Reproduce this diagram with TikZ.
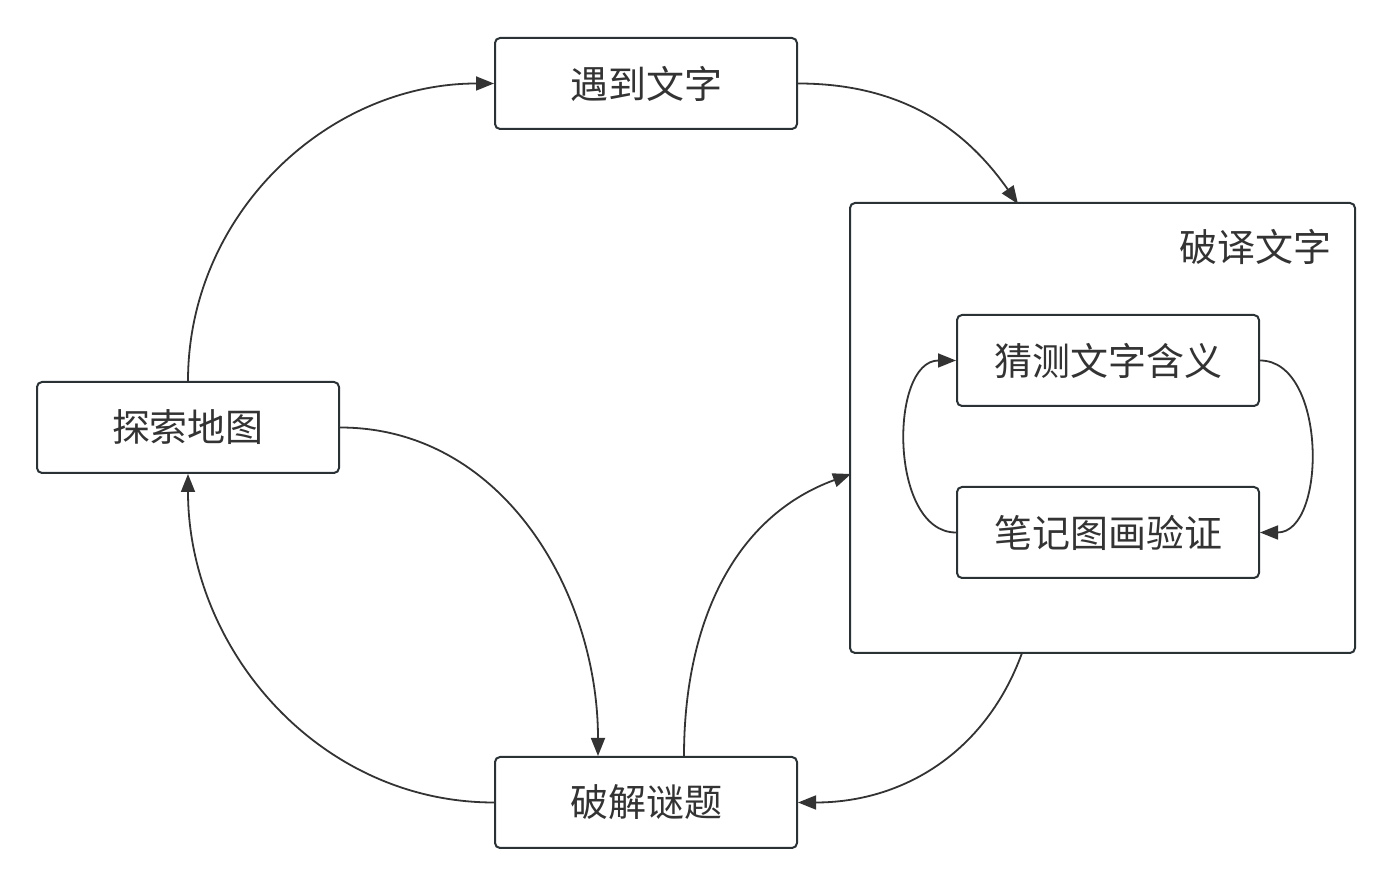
\documentclass[tikz,border=0pt]{standalone}
\usepackage{fontspec}
\setmainfont{Noto Sans CJK SC}
\usetikzlibrary{arrows.meta}
\definecolor{ink}{HTML}{333333}
\definecolor{edge}{HTML}{2B3236}
\begin{document}
\begin{tikzpicture}[x=0.5pt,y=-0.5pt,
	stepbox/.style={draw=edge,line width=1pt,rounded corners=2.5pt,minimum width=151pt,minimum height=45.5pt,inner sep=0pt,font=\fontsize{19}{22}\selectfont,text=ink},
	link/.style={draw=ink,line width=0.9pt,-{Triangle[length=9pt,width=7pt]}}]
	\useasboundingbox (0,0) rectangle (1393,886);
	
	\draw[edge,line width=1pt,rounded corners=2.5pt] (850,203) coordinate (dtl) rectangle (1355,653);
	\draw (1255,247) node[font=\fontsize{19}{22}\selectfont,text=ink]{破译文字};
	\coordinate (dtop) at (1018,204);
	\coordinate (dleft) at (851,474);
	\coordinate (dbot) at (1022,653);
	
	\node[stepbox] (meet) at (646,83.5) {遇到文字};
	\node[stepbox] (explore) at (188,427.5) {探索地图};
	\node[stepbox] (puzzle) at (646,802.5) {破解谜题};
	\node[stepbox] (guess) at (1108,360.5) {猜测文字含义};
	\node[stepbox] (verify) at (1108,532.5) {笔记图画验证};
	
	\draw[link] (explore.north) to [out=90, in=180] (meet.west);
	\draw[link] (meet.east) to [out=0, in=125] (dtop);
	\draw[link] (dbot) to [out=-110, in=0] (puzzle.east);
	\draw[link] (puzzle.west) to [out=180, in=-90] (explore.south);
	\draw[link] (explore.east) to [out=0, in=90] (puzzle.north -| 598,0);
	\draw[link] (puzzle.north -| 684,0) to [out=90, in=200] (dleft);
	\draw[link] (verify.west) to [out=180, in=180] (guess.west);
	\draw[link] (guess.east) to [out=0, in=0] (verify.east);
\end{tikzpicture}
\end{document}
